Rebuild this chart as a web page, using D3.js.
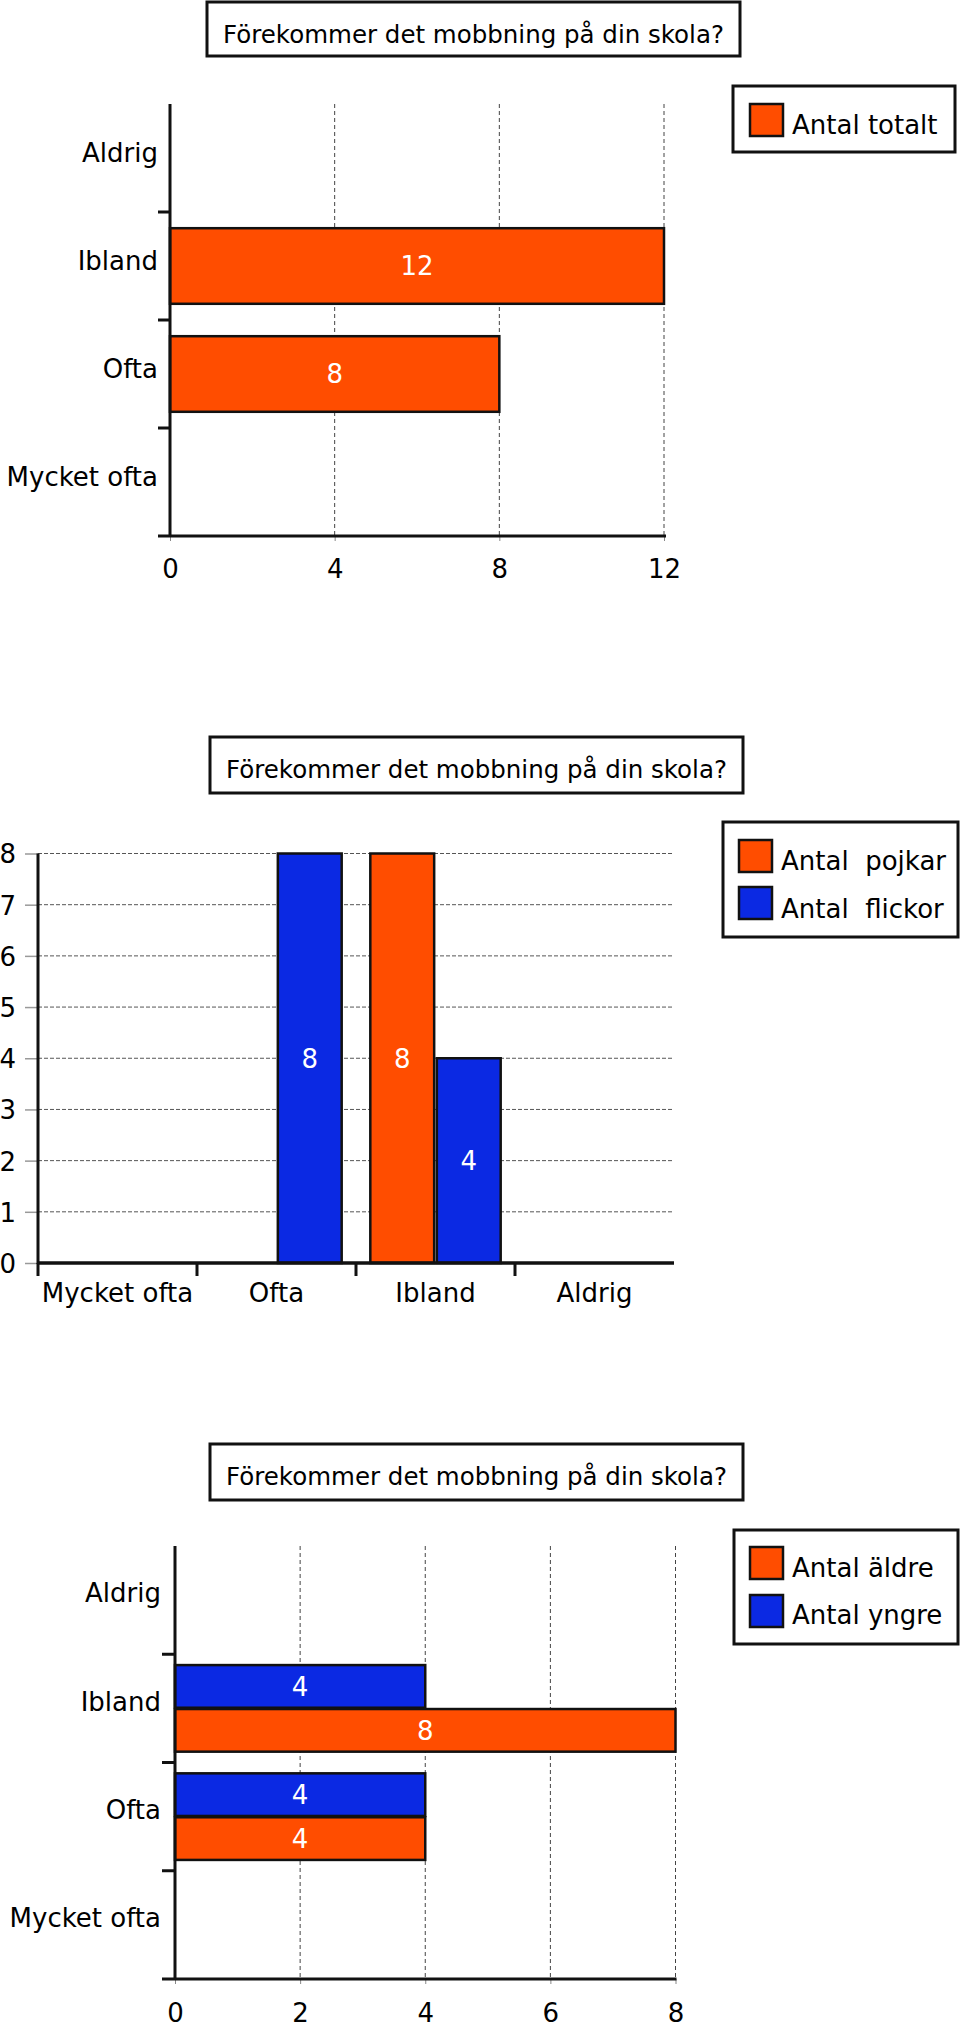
<!DOCTYPE html>
<html>
<head>
<meta charset="utf-8">
<script src="https://cdn.jsdelivr.net/npm/d3@7"></script>
<style>
  html, body { margin: 0; padding: 0; background: #fff; }
  svg { display: block; }
  text { font-family: "DejaVu Sans", sans-serif; fill: #000; }
</style>
</head>
<body>
<svg id="chart" width="960" height="2029"></svg>
<script>
// ---------- Data ----------
const titleText = "Förekommer det mobbning på din skola?";

const chart1Categories = ["Aldrig", "Ibland", "Ofta", "Mycket ofta"];
const totalValues = [0, 12, 8, 0];
const chart1Ticks = [0, 4, 8, 12];
const chart1Legend = ["Antal totalt"];

const chart2Categories = ["Mycket ofta", "Ofta", "Ibland", "Aldrig"];
const boysValues = [0, 0, 8, 0];
const girlsValues = [0, 8, 4, 0];
const chart2Ticks = [0, 1, 2, 3, 4, 5, 6, 7, 8];
const chart2Legend = ["Antal  pojkar", "Antal  flickor"];

const chart3Categories = ["Aldrig", "Ibland", "Ofta", "Mycket ofta"];
const olderValues = [0, 8, 4, 0];
const youngerValues = [0, 4, 4, 0];
const chart3Ticks = [0, 2, 4, 6, 8];
const chart3Legend = ["Antal äldre", "Antal yngre"];

const ORANGE = "#ff4d00";
const BLUE = "#0b29e3";
const TFONT = 24.5;
const FONT = 26;

const svg = d3.select("#chart");

function titleBox(g, x0, x1, y0, y1) {
  g.append("rect").attr("x", x0).attr("y", y0).attr("width", x1 - x0).attr("height", y1 - y0)
    .attr("fill", "#fff").attr("stroke", "#111").attr("stroke-width", 3);
  g.append("text").attr("x", (x0 + x1) / 2).attr("y", y0 + 41)
    .attr("text-anchor", "middle").attr("font-size", TFONT).text(titleText);
}

function legendBox(g, x0, x1, y0, y1, items, colors, swX, swW, swTops, swH, textX, baselines) {
  g.append("rect").attr("x", x0).attr("y", y0).attr("width", x1 - x0).attr("height", y1 - y0)
    .attr("fill", "#fff").attr("stroke", "#111").attr("stroke-width", 3);
  items.forEach((t, i) => {
    g.append("rect").attr("x", swX).attr("y", swTops[i]).attr("width", swW).attr("height", swH)
      .attr("fill", colors[i]).attr("stroke", "#111").attr("stroke-width", 2.5);
    g.append("text").attr("x", textX).attr("y", baselines[i]).attr("font-size", FONT)
      .style("white-space", "pre").text(t);
  });
}

// ---------- Chart 1: horizontal bars ----------
(function () {
  const g = svg.append("g");
  titleBox(g, 207, 740, 2, 56);
  const x = d3.scaleLinear().domain([0, 12]).range([170, 664]);
  const y = d3.scaleBand().domain(chart1Categories).range([104, 536]).paddingInner(0.3).paddingOuter(0.15);

  g.selectAll(".grid").data(chart1Ticks.filter(d => d > 0)).join("line")
    .attr("x1", d => x(d)).attr("x2", d => x(d)).attr("y1", 104).attr("y2", 536)
    .attr("stroke", "#444").attr("stroke-width", 1).attr("stroke-dasharray", "4,3");

  const xAxis = d3.axisBottom(x).tickValues(chart1Ticks).tickSize(5).tickPadding(14);
  const ax = g.append("g").attr("transform", "translate(0,536)").call(xAxis);
  ax.select(".domain").remove();
  ax.selectAll(".tick line").attr("stroke", "#888");
  ax.selectAll(".tick text").attr("font-size", FONT).attr("font-family", "DejaVu Sans").attr("dy", "0.9em");

  const cats = chart1Categories.map((c, i) => ({ c, v: totalValues[i] }));
  g.selectAll(".bar").data(cats).join("rect")
    .attr("x", x(0)).attr("y", d => y(d.c)).attr("width", d => x(d.v) - x(0)).attr("height", y.bandwidth())
    .attr("fill", ORANGE).attr("stroke", "#111").attr("stroke-width", 2.5);

  g.selectAll(".val").data(cats.filter(d => d.v > 0)).join("text")
    .attr("x", d => (x(0) + x(d.v)) / 2).attr("y", d => y(d.c) + y.bandwidth() / 2)
    .attr("dy", "0.36em").attr("text-anchor", "middle").attr("font-size", FONT)
    .style("fill", "#fff").text(d => d.v);

  g.append("line").attr("x1", 170).attr("x2", 170).attr("y1", 104).attr("y2", 537)
    .attr("stroke", "#111").attr("stroke-width", 3);
  g.append("line").attr("x1", 158).attr("x2", 666).attr("y1", 536).attr("y2", 536)
    .attr("stroke", "#111").attr("stroke-width", 3);
  const step = y.step();
  g.selectAll(".ctick").data(chart1Categories.slice(1)).join("line")
    .attr("x1", 158).attr("x2", 170)
    .attr("y1", d => y(d) - y.paddingInner() * step / 2).attr("y2", d => y(d) - y.paddingInner() * step / 2)
    .attr("stroke", "#111").attr("stroke-width", 3);
  g.selectAll(".clabel").data(chart1Categories).join("text")
    .attr("x", 158).attr("y", d => y(d) + y.bandwidth() / 2 - 5).attr("dy", "0.36em")
    .attr("text-anchor", "end").attr("font-size", FONT).text(d => d);

  legendBox(g, 733, 955, 86, 152, chart1Legend, [ORANGE], 750, 33, [104], 32, 792, [134]);
})();

// ---------- Chart 2: vertical grouped bars ----------
(function () {
  const g = svg.append("g");
  titleBox(g, 210, 743, 737, 793);
  const y = d3.scaleLinear().domain([0, 8]).range([1263, 853.5]);
  const x0 = d3.scaleBand().domain(chart2Categories).range([38, 674]).paddingInner(0.18).paddingOuter(0.09);
  const keys = ["boys", "girls"];
  const x1 = d3.scaleBand().domain(keys).range([0, x0.bandwidth()]).paddingInner(0.04);
  const colors = { boys: ORANGE, girls: BLUE };

  g.selectAll(".grid").data(chart2Ticks.filter(d => d > 0)).join("line")
    .attr("x1", 38).attr("x2", 674).attr("y1", d => y(d)).attr("y2", d => y(d))
    .attr("stroke", "#555").attr("stroke-width", 1).attr("stroke-dasharray", "4,2");

  const yAxis = d3.axisLeft(y).tickValues(chart2Ticks).tickSize(13).tickPadding(9);
  const ay = g.append("g").attr("transform", "translate(38,0)").call(yAxis);
  ay.select(".domain").remove();
  ay.selectAll(".tick line").attr("stroke", "#999").attr("stroke-width", 1.5);
  ay.selectAll(".tick text").attr("font-size", FONT).attr("font-family", "DejaVu Sans").attr("dy", "0.36em");

  const rows = chart2Categories.map((c, i) => ({ c, boys: boysValues[i], girls: girlsValues[i] }));
  const bars = [];
  rows.forEach(r => keys.forEach(k => bars.push({ c: r.c, k, v: r[k] })));

  g.selectAll(".bar").data(bars.filter(d => d.v > 0)).join("rect")
    .attr("x", d => x0(d.c) + x1(d.k)).attr("width", x1.bandwidth())
    .attr("y", d => y(d.v)).attr("height", d => y(0) - y(d.v))
    .attr("fill", d => colors[d.k]).attr("stroke", "#111").attr("stroke-width", 2.5);

  g.selectAll(".val").data(bars.filter(d => d.v > 0)).join("text")
    .attr("x", d => x0(d.c) + x1(d.k) + x1.bandwidth() / 2)
    .attr("y", d => (y(d.v) + y(0)) / 2).attr("dy", "0.36em")
    .attr("text-anchor", "middle").attr("font-size", FONT).style("fill", "#fff").text(d => d.v);

  g.append("line").attr("x1", 38).attr("x2", 38).attr("y1", 853.5).attr("y2", 1264)
    .attr("stroke", "#111").attr("stroke-width", 3);
  g.append("line").attr("x1", 37).attr("x2", 674).attr("y1", 1263).attr("y2", 1263)
    .attr("stroke", "#111").attr("stroke-width", 3.5);
  const step = x0.step();
  const boundary = (d, i) => i === 0 ? 38 : x0(d) - x0.paddingInner() * step / 2;
  g.selectAll(".ctick").data(chart2Categories).join("line")
    .attr("x1", boundary).attr("x2", boundary)
    .attr("y1", 1263).attr("y2", 1276).attr("stroke", "#111").attr("stroke-width", 3);
  g.selectAll(".clabel").data(chart2Categories).join("text")
    .attr("x", d => x0(d) + x0.bandwidth() / 2).attr("y", 1302)
    .attr("text-anchor", "middle").attr("font-size", FONT).text(d => d);

  legendBox(g, 723, 958, 822, 937, chart2Legend, [ORANGE, BLUE], 739, 33, [840, 887], 32, 781, [870, 918]);
})();

// ---------- Chart 3: horizontal grouped bars ----------
(function () {
  const g = svg.append("g");
  titleBox(g, 210, 743, 1444, 1500);
  const x = d3.scaleLinear().domain([0, 8]).range([175, 675.5]);
  const y0 = d3.scaleBand().domain(chart3Categories).range([1546, 1979]).paddingInner(0.2).paddingOuter(0.1);
  const keys = ["younger", "older"];
  const y1 = d3.scaleBand().domain(keys).range([0, y0.bandwidth()]).paddingInner(0.03);
  const colors = { older: ORANGE, younger: BLUE };

  g.selectAll(".grid").data(chart3Ticks.filter(d => d > 0)).join("line")
    .attr("x1", d => x(d)).attr("x2", d => x(d)).attr("y1", 1546).attr("y2", 1979)
    .attr("stroke", "#444").attr("stroke-width", 1).attr("stroke-dasharray", "4,3");

  const xAxis = d3.axisBottom(x).tickValues(chart3Ticks).tickSize(5).tickPadding(17);
  const ax = g.append("g").attr("transform", "translate(0,1979)").call(xAxis);
  ax.select(".domain").remove();
  ax.selectAll(".tick line").attr("stroke", "#888");
  ax.selectAll(".tick text").attr("font-size", FONT).attr("font-family", "DejaVu Sans").attr("dy", "0.8em");

  const rows = chart3Categories.map((c, i) => ({ c, older: olderValues[i], younger: youngerValues[i] }));
  const bars = [];
  rows.forEach(r => keys.forEach(k => bars.push({ c: r.c, k, v: r[k] })));

  g.selectAll(".bar").data(bars.filter(d => d.v > 0)).join("rect")
    .attr("x", x(0)).attr("width", d => x(d.v) - x(0))
    .attr("y", d => y0(d.c) + y1(d.k)).attr("height", y1.bandwidth())
    .attr("fill", d => colors[d.k]).attr("stroke", "#111").attr("stroke-width", 2.5);

  g.selectAll(".val").data(bars.filter(d => d.v > 0)).join("text")
    .attr("x", d => (x(0) + x(d.v)) / 2)
    .attr("y", d => y0(d.c) + y1(d.k) + y1.bandwidth() / 2).attr("dy", "0.36em")
    .attr("text-anchor", "middle").attr("font-size", FONT).style("fill", "#fff").text(d => d.v);

  g.append("line").attr("x1", 175).attr("x2", 175).attr("y1", 1546).attr("y2", 1980)
    .attr("stroke", "#111").attr("stroke-width", 3);
  g.append("line").attr("x1", 162).attr("x2", 676.5).attr("y1", 1979).attr("y2", 1979)
    .attr("stroke", "#111").attr("stroke-width", 3);
  const step = y0.step();
  g.selectAll(".ctick").data(chart3Categories.slice(1)).join("line")
    .attr("x1", 162).attr("x2", 175)
    .attr("y1", d => y0(d) - y0.paddingInner() * step / 2).attr("y2", d => y0(d) - y0.paddingInner() * step / 2)
    .attr("stroke", "#111").attr("stroke-width", 3);
  g.selectAll(".clabel").data(chart3Categories).join("text")
    .attr("x", 161).attr("y", d => y0(d) + y0.bandwidth() / 2 - 7).attr("dy", "0.36em")
    .attr("text-anchor", "end").attr("font-size", FONT).text(d => d);

  legendBox(g, 734, 958, 1530, 1644, chart3Legend, [ORANGE, BLUE], 750, 33, [1547, 1595], 32, 792, [1577, 1624]);
})();
</script>
</body>
</html>
